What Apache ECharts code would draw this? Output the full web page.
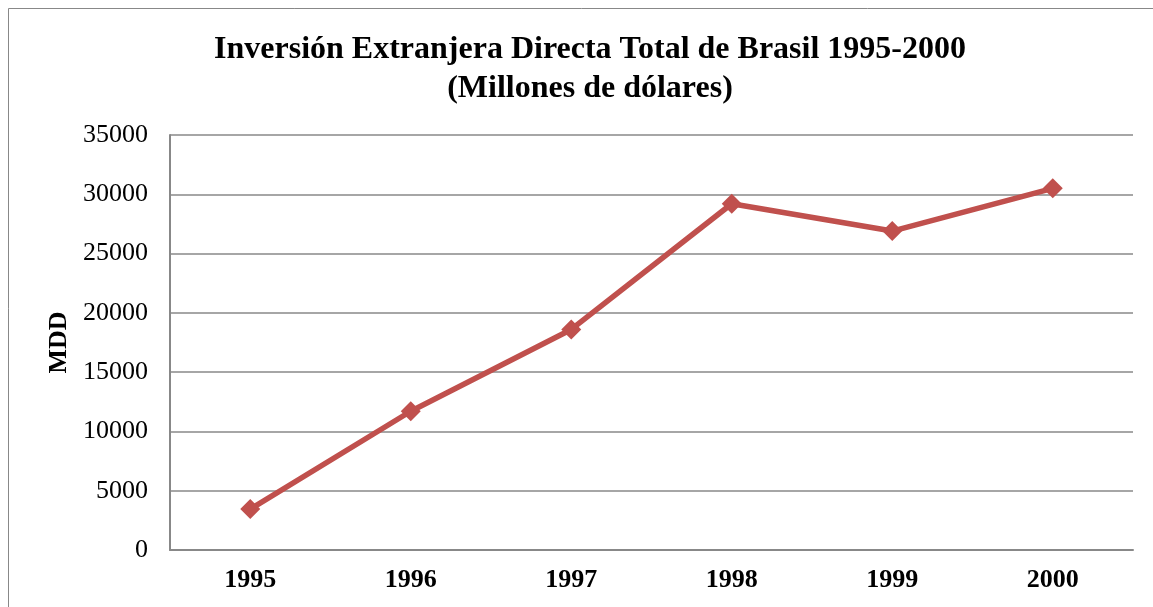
<!DOCTYPE html>
<html>
<head>
<meta charset="utf-8">
<script src="https://cdn.jsdelivr.net/npm/echarts@6/dist/echarts.min.js"></script>
<style>
  html, body { margin: 0; padding: 0; background: #fff; }
  #main { width: 1153px; height: 607px; }
</style>
</head>
<body>
<div id="main"></div>
<script>
// datos
var years = ['1995', '1996', '1997', '1998', '1999', '2000'];
var ied = [3450, 11700, 18600, 29200, 26900, 30500];

var myChart = echarts.init(document.getElementById('main'));
var option = {
  backgroundColor: '#fff',
  animation: false,
  title: {
    text: 'Inversión Extranjera Directa Total de Brasil 1995-2000\n(Millones de dólares)',
    left: 585,
    top: 25,
    textAlign: 'center',
    textStyle: {
      fontFamily: 'Liberation Serif',
      fontWeight: 'bold',
      fontSize: 32,
      lineHeight: 39,
      color: '#000'
    }
  },
  graphic: [{
    type: 'rect',
    shape: { x: 8.5, y: 8.5, width: 1160, height: 620 },
    style: { fill: 'none', stroke: '#888', lineWidth: 1 },
    silent: true
  }],
  grid: { left: 170, right: 20, top: 135, bottom: 57 },
  xAxis: {
    type: 'category',
    data: years,
    axisLine: { lineStyle: { color: '#888', width: 2 } },
    axisTick: { show: false },
    axisLabel: {
      fontFamily: 'Liberation Serif',
      fontWeight: 'bold',
      fontSize: 26,
      color: '#000',
      margin: 17
    }
  },
  yAxis: {
    type: 'value',
    min: 0,
    max: 35000,
    interval: 5000,
    name: 'MDD',
    nameLocation: 'middle',
    nameGap: 98,
    nameTextStyle: {
      fontFamily: 'Liberation Serif',
      fontWeight: 'bold',
      fontSize: 26,
      color: '#000'
    },
    axisLine: { show: true, lineStyle: { color: '#888', width: 2 } },
    axisTick: { show: false },
    splitLine: { lineStyle: { color: '#888', width: 1.5 } },
    axisLabel: {
      fontFamily: 'Liberation Serif',
      fontSize: 26,
      color: '#000',
      margin: 22,
      formatter: function (v) { return String(v); }
    }
  },
  series: [{
    type: 'line',
    data: ied,
    symbol: 'diamond',
    symbolSize: 20,
    itemStyle: { color: '#c0504d' },
    lineStyle: { color: '#c0504d', width: 5.5 }
  }]
};
myChart.setOption(option);
</script>
</body>
</html>
